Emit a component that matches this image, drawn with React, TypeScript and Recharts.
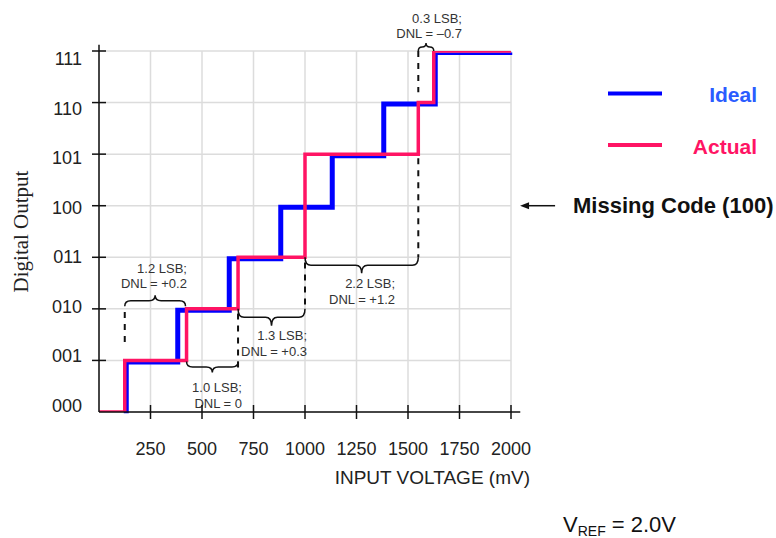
import React from 'react';
import {
  LineChart, Line, XAxis, YAxis, CartesianGrid, ReferenceLine, ReferenceDot, Legend
} from 'recharts';

// transfer function of a 3-bit ADC, VREF = 2.0 V (1 LSB = 250 mV)
const IDEAL_MV = [125, 375, 625, 875, 1125, 1375, 1625, 2000];
const IDEAL_CODE = [0, 1, 2, 3, 4, 5, 6, 7];
const ACTUAL_MV = [0, 125, 425, 675, 1000, 1550, 1625, 2000];
const ACTUAL_CODE = [0, 0, 1, 2, 3, 5, 6, 7];

const X_TICKS = [250, 500, 750, 1000, 1250, 1500, 1750, 2000];
const CODE_TICKS = [0, 1, 2, 3, 4, 5, 6, 7];
const CODE_LABELS = ['000', '001', '010', '011', '100', '101', '110', '111'];
const SERIES_ORDER = ['Ideal', 'Actual'];

// DNL braces: span in mV, code level where the brace ends sit
const BRACE_FROM = [125, 425, 675, 1000, 1550];
const BRACE_TO = [420, 675, 1000, 1550, 1625];
const BRACE_LEVEL = [2.05, 0.98, 2.0, 3.0, 7.0];
const NOTE_LSB = ['1.2 LSB;', '1.0 LSB;', '1.3 LSB;', '2.2 LSB;', '0.3 LSB;'];
const NOTE_DNL = ['DNL = +0.2', 'DNL = 0', 'DNL = +0.3', 'DNL = +1.2', 'DNL = –0.7'];
const NOTE_X = [427, 694, 1010, 1437, 1762];
const NOTE_Y = [2.7, 0.385, 1.394, 2.404, 7.55];

// dashed guides
const DASH_X = [125, 675, 1000, 1550, 1550];
const DASH_FROM = [1.94, 1.91, 2.9, 7.0, 4.92];
const DASH_TO = [1.26, 0.84, 1.97, 6.2, 3.0];

const MISSING_CODE = 4;

const idealData = IDEAL_MV.map((mv, i) => ({ mv, code: IDEAL_CODE[i] }));
const actualData = ACTUAL_MV.map((mv, i) => ({ mv, code: ACTUAL_CODE[i] }));

const SANS = '"Liberation Sans", Arial, Helvetica, sans-serif';
const SERIF = '"Liberation Serif", "Times New Roman", serif';
const BLUE = '#0000ff';
const PINK = '#ff1464';
const INK = '#111';

// brace style per brace: -1 opens up, 1 opens down; depth in px
const BRACE_DIR = [-1, 1, 1, 1, -1];
const BRACE_DEPTH = [11, 11, 17, 16, 8];

function Brace(props: any) {
  const { x1, x2, y1, dir, depth } = props;
  const left = Math.min(x1, x2);
  const right = Math.max(x1, x2);
  const mid = (left + right) / 2;
  const r = Math.min(6, (right - left) / 4);
  const bar = y1 + dir * depth * 0.5;
  const tip = y1 + dir * depth;
  const d = `M${left},${y1} Q${left},${bar} ${left + r},${bar} L${mid - r},${bar} Q${mid},${bar} ${mid},${tip} Q${mid},${bar} ${mid + r},${bar} L${right - r},${bar} Q${right},${bar} ${right},${y1}`;
  return <path d={d} fill="none" stroke={INK} strokeWidth={1.5} />;
}

function Arrow(props: any) {
  const { x1, x2, y1 } = props;
  return (
    <g>
      <line x1={x1} x2={x2 + 6} y1={y1} y2={y1} stroke={INK} strokeWidth={1.5} />
      <path d={`M${x2},${y1} L${x2 + 9},${y1 - 3.5} L${x2 + 9},${y1 + 3.5} Z`} fill={INK} />
    </g>
  );
}

function XTick(props: any) {
  const { x, y, payload } = props;
  return (
    <g>
      <line x1={x} x2={x} y1={y - 7} y2={y + 7} stroke={INK} strokeWidth={1.5} />
      <text x={x} y={y + 43} textAnchor="middle" fontSize={18} fontFamily={SANS} fill="#222">
        {payload.value}
      </text>
    </g>
  );
}

function YTick(props: any) {
  const { x, y, payload } = props;
  const v = payload.value;
  return (
    <g>
      {v > 0 && <line x1={x - 7} x2={x + 7} y1={y} y2={y} stroke={INK} strokeWidth={1.5} />}
      <text x={x - 17} y={y + 6.5 + (v - 3.3) * 2.1} textAnchor="end" fontSize={18} fontFamily={SANS} fill="#222">
        {CODE_LABELS[v]}
      </text>
    </g>
  );
}

function LegendBox({ payload }: any) {
  const items = [...(payload || [])].sort(
    (a: any, b: any) => SERIES_ORDER.indexOf(a.value) - SERIES_ORDER.indexOf(b.value)
  );
  const textColors: Record<string, string> = { Ideal: '#2a5cff', Actual: PINK };
  return (
    <svg width={236} height={100}>
      {items.map((it: any, i: number) => {
        const y = 23.5 + i * 51.5;
        return (
          <g key={it.value}>
            <line x1={68} x2={122} y1={y} y2={y} stroke={it.color} strokeWidth={4} />
            <text x={217} y={y + 8.5} textAnchor="end" fontSize={21} fontWeight="bold" fontFamily={SANS}
              fill={textColors[it.value] || it.color}>
              {it.value}
            </text>
          </g>
        );
      })}
    </svg>
  );
}

function Note(props: any) {
  const { cx, cy, lines } = props;
  return (
    <text x={cx} y={cy} textAnchor="end" fontSize={13} fontFamily={SANS} fill="#333">
      {lines.map((t: string, i: number) => (
        <tspan key={i} x={cx} dy={i === 0 ? 0 : 15.5}>{t}</tspan>
      ))}
    </text>
  );
}

export default function App() {
  return (
    <div style={{ position: 'absolute', left: 0, top: 0, width: 776, height: 538, background: '#fff' }}>
      <style>{`.ideal-step path { transform: translate(1.5px, 1.5px); }`}</style>
      <LineChart width={776} height={538} margin={{ top: 51, right: 265, bottom: 66, left: 0 }}>
        <CartesianGrid stroke="#dcdcdc" strokeWidth={1.5} />
        <XAxis
          type="number" dataKey="mv" domain={[0, 2000]} ticks={X_TICKS} interval={0}
          axisLine={false} tickLine={false} tickSize={0} tickMargin={0} height={60}
          tick={<XTick />} allowDataOverflow
          label={{
            content: (p: any) => (
              <text x={p.viewBox.x + p.viewBox.width + 19} y={p.viewBox.y + 72} textAnchor="end"
                fontSize={19} fontFamily={SANS} fill="#222">INPUT VOLTAGE (mV)</text>
            ),
          }}
        />
        <YAxis
          type="number" domain={[0, 7]} ticks={CODE_TICKS} interval={0}
          axisLine={false} tickLine={false} tickSize={0} tickMargin={0} width={99}
          tick={<YTick />} allowDataOverflow
          label={{
            content: (p: any) => {
              const cx = p.viewBox.x + 21;
              const cy = p.viewBox.y + p.viewBox.height / 2;
              return (
                <text x={cx} y={cy} transform={`rotate(-90 ${cx} ${cy})`} textAnchor="middle"
                  dominantBaseline="central" fontSize={21} fontFamily={SERIF} fill="#222">
                  Digital Output
                </text>
              );
            },
          }}
        />
        <Legend
          verticalAlign="middle" align="center" layout="horizontal"
          wrapperStyle={{ left: 540, top: 70, width: 236, height: 100 }}
          content={(p: any) => <LegendBox payload={p.payload} />}
        />

        <Line data={idealData} dataKey="code" name="Ideal" type="stepBefore" stroke={BLUE}
          strokeWidth={5} dot={false} isAnimationActive={false} className="ideal-step" />
        <Line data={actualData} dataKey="code" name="Actual" type="stepBefore" stroke={PINK}
          strokeWidth={3.5} dot={false} isAnimationActive={false} />

        {/* axes with crossing ticks */}
        <ReferenceLine segment={[{ x: 0, y: 0 }, { x: 2045, y: 0 }]} stroke={INK} strokeWidth={1.5} ifOverflow="visible" />
        <ReferenceLine segment={[{ x: 0, y: 0 }, { x: 0, y: 7.12 }]} stroke={INK} strokeWidth={1.5} ifOverflow="visible" />

        {DASH_X.map((x, i) => (
          <ReferenceLine key={`d${i}`} segment={[{ x, y: DASH_FROM[i] }, { x, y: DASH_TO[i] }]}
            stroke={INK} strokeWidth={2} strokeDasharray="6 6" ifOverflow="visible" />
        ))}

        {BRACE_FROM.map((from, i) => (
          <ReferenceLine key={`b${i}`}
            segment={[{ x: from, y: BRACE_LEVEL[i] }, { x: BRACE_TO[i], y: BRACE_LEVEL[i] }]}
            ifOverflow="visible"
            shape={(p: any) => <Brace {...p} dir={BRACE_DIR[i]} depth={BRACE_DEPTH[i]} />}
          />
        ))}

        {NOTE_X.map((x, i) => (
          <ReferenceDot key={`n${i}`} x={x} y={NOTE_Y[i]} ifOverflow="visible"
            shape={(p: any) => <Note {...p} lines={[NOTE_LSB[i], NOTE_DNL[i]]} />} />
        ))}

        {/* missing code pointer */}
        <ReferenceLine segment={[{ x: 2214, y: MISSING_CODE }, { x: 2044, y: MISSING_CODE }]}
          ifOverflow="visible" shape={(p: any) => <Arrow {...p} />} />
        <ReferenceDot x={2301} y={MISSING_CODE} ifOverflow="visible"
          shape={(p: any) => (
            <text x={p.cx} y={p.cy + 7.5} fontSize={22} fontWeight="bold" fontFamily={SANS} fill={INK}>
              Missing Code (100)
            </text>
          )} />
      </LineChart>
      <svg width={236} height={38} style={{ position: 'absolute', left: 540, top: 500 }}>
        <text x={23} y={32} fontSize={22} fontFamily={SANS} fill="#111">
          V<tspan fontSize={14} dy={4}>REF</tspan><tspan dy={-4}> = 2.0V</tspan>
        </text>
      </svg>
    </div>
  );
}
